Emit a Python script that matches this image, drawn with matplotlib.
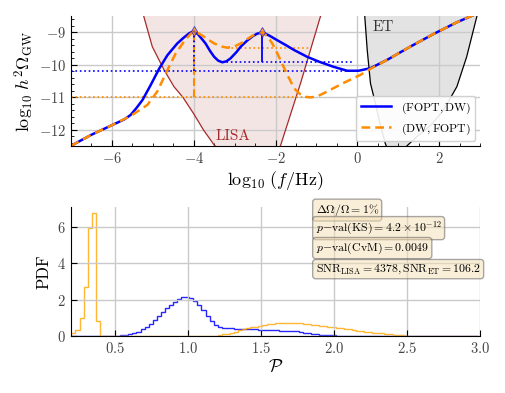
import numpy as np
import matplotlib
matplotlib.use("Agg")
import matplotlib.pyplot as plt
from matplotlib.ticker import MultipleLocator

plt.rcParams['font.family'] = 'serif'
plt.rcParams['font.serif'] = ['cmr10', 'DejaVu Serif']
plt.rcParams['mathtext.fontset'] = 'cm'
plt.rcParams['axes.formatter.use_mathtext'] = True
plt.rcParams['axes.unicode_minus'] = True

# --- top panel: spectra (log10 f, log10 h^2 Omega)
fopt_dw_x = [-7.0, -6.5, -5.94, -5.7, -5.54, -5.4, -5.25, -5.05, -4.84, -4.64, -4.40,
             -4.25, -4.1, -4.0, -3.9, -3.8, -3.71, -3.6, -3.5, -3.4, -3.3, -3.2, -3.1,
             -2.95, -2.85, -2.7, -2.57, -2.45, -2.32, -2.15, -1.96, -1.75, -1.55,
             -1.23, -0.94, -0.58, -0.25, 0.03, 0.32, 0.72, 1.29, 1.86, 2.43, 3.0]
fopt_dw_y = [-12.49, -12.15, -11.82, -11.68, -11.54, -11.33, -11.08, -10.62, -10.11,
             -9.70, -9.34, -9.17, -9.02, -8.97, -9.05, -9.2, -9.34, -9.57, -9.75,
             -9.87, -9.92, -9.89, -9.80, -9.6, -9.44, -9.26, -9.13, -9.04, -9.0,
             -9.1, -9.24, -9.39, -9.54, -9.75, -9.90, -10.06, -10.18, -10.18, -10.10,
             -9.85, -9.44, -9.05, -8.69, -8.38]

dw_fopt_x = [-7.0, -6.5, -5.94, -5.54, -5.13, -4.89, -4.64, -4.44, -4.24, -4.1, -4.0,
             -3.88, -3.75, -3.5, -3.3, -3.18, -3.0, -2.85, -2.7, -2.57, -2.45, -2.32,
             -2.2, -2.08, -1.98, -1.88, -1.71, -1.6, -1.51, -1.4, -1.27, -1.15, -0.98,
             -0.74, -0.33, 0.07, 0.32, 0.72, 1.29, 1.86, 2.43, 3.0]
dw_fopt_y = [-12.49, -12.15, -11.82, -11.57, -11.23, -10.82, -10.16, -9.65, -9.29,
             -9.08, -8.97, -9.03, -9.13, -9.34, -9.44, -9.47, -9.43, -9.34, -9.21,
             -9.11, -9.03, -9.0, -9.12, -9.34, -9.58, -9.85, -10.31, -10.58, -10.77,
             -10.9, -10.98, -11.0, -10.97, -10.82, -10.55, -10.31, -10.12, -9.85,
             -9.44, -9.05, -8.69, -8.38]

# peaks, dips and minima marked on the spectra
peak_x = [-4.0, -2.32]
peak_y = [-8.97, -9.0]
fopt_dw_dip = (-3.3, -9.92)
fopt_dw_min = (-0.1, -10.18)
dw_fopt_dip = (-3.18, -9.47)
dw_fopt_min = (-1.15, -11.0)

# sensitivity regions
lisa_x = [-5.35, -5.22, -5.01, -4.72, -4.48, -4.26, -4.0, -3.76, -3.5, -3.2, -2.7,
          -2.3, -2.0, -1.88, -1.39, -0.9, -0.83]
lisa_y = [-8.0, -8.5, -9.44, -10.16, -10.67, -11.0, -11.5, -12.0, -12.46, -12.85,
          -13.05, -13.0, -12.9, -12.49, -10.57, -8.5, -8.2]
et_x = [0.17, 0.18, 0.24, 0.32, 0.44, 0.55, 0.68, 0.8, 1.0, 1.21, 1.46, 1.8, 2.1,
        2.43, 2.67, 2.92, 2.98]
et_y = [-8.2, -8.5, -9.54, -10.57, -11.18, -11.8, -12.41, -12.8, -12.9, -12.49,
        -12.2, -11.85, -11.4, -10.67, -9.75, -8.5, -8.2]

# --- bottom panel: histograms of P
bin_start = 0.204
bin_width = 0.0278
n_bins = 100
pdf_fopt_dw = [0.0] * 9 + [
    0.005, 0.01, 0.02, 0.03, 0.05, 0.09, 0.15, 0.24, 0.36, 0.51, 0.68, 0.88, 1.08,
    1.30, 1.52, 1.72, 1.90, 2.04, 2.13, 2.16, 2.10, 1.95, 1.72, 1.42, 1.10, 0.80,
    0.58, 0.48, 0.44, 0.43, 0.42, 0.41, 0.40, 0.39, 0.38, 0.37, 0.36, 0.35, 0.34,
    0.33, 0.32, 0.31, 0.30, 0.29, 0.28, 0.26, 0.25, 0.22, 0.19, 0.16, 0.13, 0.10,
    0.08, 0.06, 0.045, 0.03, 0.02, 0.012, 0.007, 0.004]
pdf_fopt_dw += [0.0] * (n_bins - len(pdf_fopt_dw))
pdf_dw_fopt = [0.15, 0.33, 0.97, 2.68, 5.97, 6.78, 0.82] + [0.0] * 27 + [
    0.01, 0.025, 0.05, 0.09, 0.13, 0.18, 0.24, 0.31, 0.37, 0.42, 0.47, 0.52, 0.57,
    0.61, 0.65, 0.68, 0.70, 0.72, 0.73, 0.73, 0.72, 0.71, 0.69, 0.67, 0.65, 0.62,
    0.59, 0.56, 0.53, 0.50, 0.48, 0.45, 0.42, 0.39, 0.36, 0.33, 0.30, 0.27, 0.24,
    0.21, 0.19, 0.16, 0.14, 0.11, 0.09, 0.07, 0.05, 0.035, 0.025, 0.015, 0.01, 0.005]
pdf_dw_fopt += [0.0] * (n_bins - len(pdf_dw_fopt))

info_lines = [r'$\Delta\Omega/\Omega = 1\%$',
              r'$p{-}{\rm val(KS)} = 4.2\times 10^{-12}$',
              r'$p{-}{\rm val(CvM)} = 0.0049$',
              r'${\rm SNR}_{\rm LISA} = 4378, {\rm SNR}_{\rm ET} = 106.2$']

blue = 'blue'
orange = 'darkorange'

fig = plt.figure(figsize=(5.06, 3.93), dpi=100)
ax1 = fig.add_axes([0.140, 0.628, 0.809, 0.331])
ax2 = fig.add_axes([0.140, 0.145, 0.809, 0.328])

for ax in (ax1, ax2):
    ax.spines['top'].set_visible(False)
    ax.spines['right'].set_visible(False)
    ax.grid(True, color='#cacaca', lw=1.0)
    ax.tick_params(direction='in', labelsize=10.5, labelcolor='#444444', length=4)

# sensitivity curves
ax1.fill(lisa_x, lisa_y, facecolor='brown', alpha=0.12, lw=0)
ax1.plot(lisa_x, lisa_y, color='brown', lw=0.9)
ax1.fill(et_x, et_y, facecolor='gray', alpha=0.22, lw=0)
ax1.plot(et_x, et_y, color='black', lw=0.9)
ax1.text(-3.46, -12.2, 'LISA', color='brown', fontsize=11, va='center')
ax1.text(0.38, -8.84, 'ET', color='#333333', fontsize=11, va='center')

# guide lines for peaks, dips and minima
ax1.hlines(fopt_dw_min[1], -7, fopt_dw_min[0], color=blue, ls=':', lw=1.2)
ax1.hlines(dw_fopt_min[1], -7, dw_fopt_min[0], color=orange, ls=':', lw=1.2)
ax1.hlines(fopt_dw_dip[1], fopt_dw_dip[0], fopt_dw_min[0], color=blue, ls=':', lw=1.2)
ax1.hlines(dw_fopt_dip[1], dw_fopt_dip[0], dw_fopt_min[0], color=orange, ls=':', lw=1.2)
ax1.vlines(peak_x[0], dw_fopt_min[1], peak_y[0], color=orange, ls='--', lw=1.5)
ax1.vlines(peak_x[0], fopt_dw_min[1], peak_y[0], color=blue, ls=':', lw=1.3)
ax1.vlines(peak_x[1], dw_fopt_dip[1], peak_y[1], color=orange, ls=':', lw=1.3)
ax1.vlines(peak_x[1], fopt_dw_dip[1], peak_y[1], color=blue, ls='-', lw=1.3)

ax1.plot(fopt_dw_x, fopt_dw_y, color=blue, lw=1.8, label=r'$({\rm FOPT}, {\rm DW})$')
ax1.plot(dw_fopt_x, dw_fopt_y, color=orange, lw=1.8, ls=(0, (3.5, 2)),
         label=r'$({\rm DW}, {\rm FOPT})$')
ax1.plot(peak_x, peak_y, ls='none', marker='d', ms=5, mfc=orange, mec=blue,
         mew=0.6, alpha=0.7)

ax1.set_xlim(-7, 3)
ax1.set_ylim(-12.5, -8.5)
ax1.xaxis.set_major_locator(MultipleLocator(2))
ax1.xaxis.set_minor_locator(MultipleLocator(0.5))
ax1.yaxis.set_major_locator(MultipleLocator(1))
ax1.yaxis.set_minor_locator(MultipleLocator(0.2))
ax1.tick_params(which='minor', direction='in', length=2)
ax1.set_xlabel(r'$\log_{10}\,(f/{\rm Hz})$', fontsize=13, labelpad=2)
ax1.set_ylabel(r'$\log_{10}\, h^2\Omega_{\rm GW}$', fontsize=13, labelpad=2)
ax1.legend(loc='lower right', fontsize=8.5, framealpha=0.9, handlelength=2.6,
           borderaxespad=0.4)

# histograms
edges = bin_start + bin_width * np.arange(n_bins + 1)
ax2.stairs(pdf_fopt_dw, edges, color=blue, lw=1.0, alpha=0.85)
ax2.stairs(pdf_dw_fopt, edges, color='orange', lw=1.0, alpha=0.8)
ax2.set_xlim(0.2, 3.0)
ax2.set_ylim(0, 7.1)
ax2.xaxis.set_major_locator(MultipleLocator(0.5))
ax2.yaxis.set_major_locator(MultipleLocator(2))
ax2.set_xlabel(r'$\mathcal{P}$', fontsize=13, labelpad=2)
ax2.set_ylabel('PDF', fontsize=12, labelpad=4)

box_y = [0.977, 0.837, 0.682, 0.519]
for txt, yy in zip(info_lines, box_y):
    ax2.text(0.598, yy, txt, transform=ax2.transAxes, fontsize=8.5, va='center',
             ha='left', bbox=dict(boxstyle='round,pad=0.25', facecolor='wheat',
                                  edgecolor='#555555', alpha=0.5))

fig.savefig('out.png', dpi=100)
